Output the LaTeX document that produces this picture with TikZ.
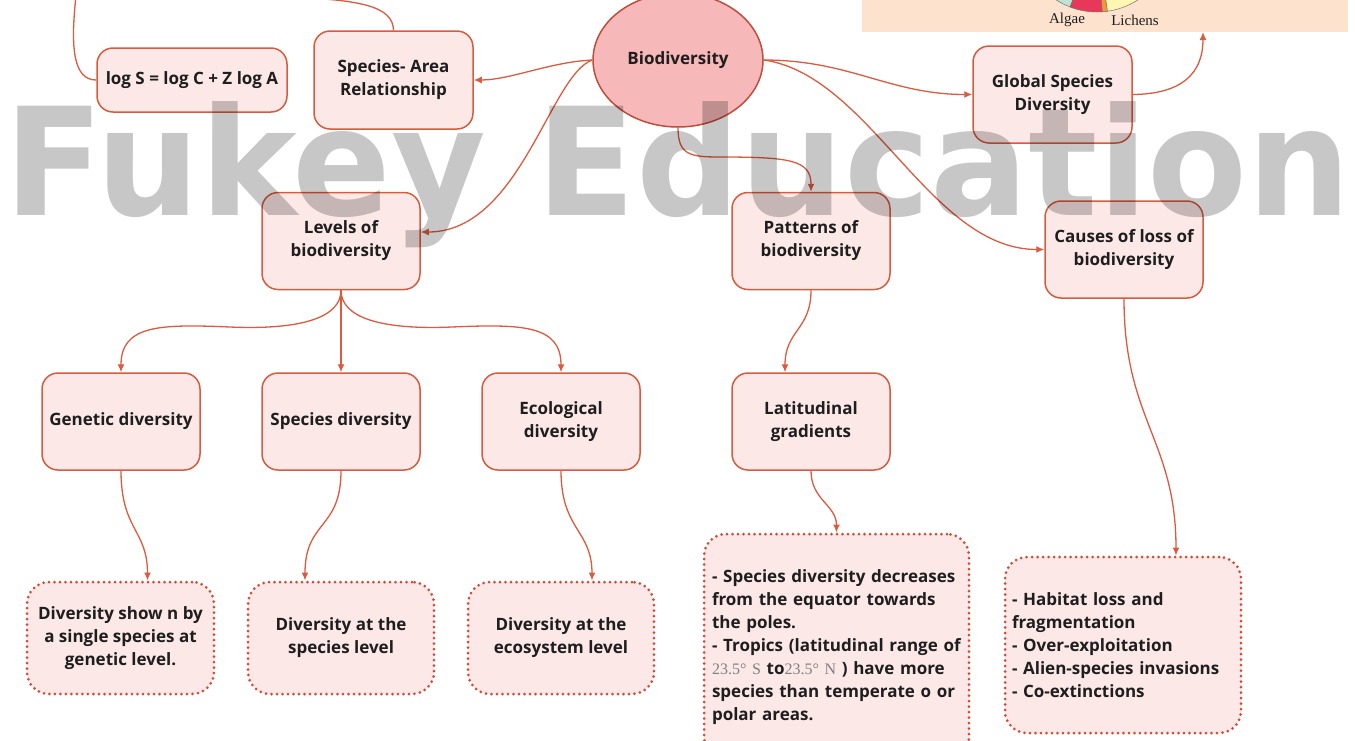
\documentclass[tikz,border=0pt]{standalone}
\usepackage{fontspec}
\setmainfont{Open Sans}
\newfontfamily\wmfont{DejaVu Sans}
\newfontfamily\picfont{Liberation Serif}
\usetikzlibrary{shapes.geometric,arrows.meta}
\definecolor{boxline}{RGB}{214,92,64}
\definecolor{boxfill}{RGB}{253,232,232}
\definecolor{dotline}{RGB}{214,72,52}
\definecolor{arrowc}{RGB}{220,90,62}
\definecolor{bioline}{RGB}{190,78,60}
\definecolor{biofill}{RGB}{246,184,184}
\definecolor{ink}{RGB}{30,30,30}
\definecolor{peach}{RGB}{253,226,206}
\definecolor{piecyan}{RGB}{190,226,214}
\definecolor{piered}{RGB}{232,56,90}
\definecolor{pieorange}{RGB}{245,150,60}
\definecolor{pieyellow}{RGB}{255,246,180}
\definecolor{pieline}{RGB}{120,110,100}
\newcommand\degpart[1]{{\picfont\mdseries\color{gray}\fontsize{16}{16}\selectfont #1}}
\begin{document}
\begin{tikzpicture}[x=1pt,y=1pt,
    box/.style={draw=boxline,fill=boxfill,line width=1.5pt,rounded corners=16pt,
      minimum width=158pt,minimum height=97pt,align=center,text=ink,
      font=\bfseries\fontsize{17}{23}\selectfont},
    descbox/.style={box,draw=dotline,line width=3pt,dash pattern=on 0pt off 5.5pt,
      line cap=round,rounded corners=22pt},
    conn/.style={draw=arrowc,line width=1.3pt,->,>={Latex[length=8pt,width=7pt]}},
    link/.style={draw=arrowc,line width=1.3pt},
    wm/.style={text=black,text opacity=.22,inner sep=0pt,
      font=\wmfont\bfseries\fontsize{150}{150}\selectfont}]
    \useasboundingbox (0,0) rectangle (1355,-740);
    % cut-off picture at the top right
    \begin{scope}
        \clip (862,0) rectangle (1348,-32);
        \fill[peach] (862,0) rectangle (1348,-32);
        \coordinate (piec) at (1097,63);
        \filldraw[fill=piecyan,draw=pieline,line width=.5pt] (piec) -- ++(180:75) arc (180:249:75) -- cycle;
        \filldraw[fill=piered,draw=pieline,line width=.5pt] (piec) -- ++(249:75) arc (249:274:75) -- cycle;
        \filldraw[fill=pieorange,draw=pieline,line width=.5pt] (piec) -- ++(274:75) arc (274:278:75) -- cycle;
        \filldraw[fill=pieyellow,draw=pieline,line width=.5pt] (piec) -- ++(278:75) arc (278:360:75) -- cycle;
    \end{scope}
    \node[font=\picfont\fontsize{15}{15}\selectfont,text=ink] (algae) at (1067,-20) {Algae};
    \node[font=\picfont\fontsize{15}{15}\selectfont,text=ink] (lichens) at (1135,-20) {Lichens};
    \coordinate (imgbot) at (1203,-32);
    \coordinate (sartop) at (280,3);
    \coordinate (lstop) at (76,4);

    \node[ellipse,draw=bioline,fill=biofill,line width=1.5pt,minimum width=170pt,minimum height=134pt,
        text=ink,font=\bfseries\fontsize{17}{23}\selectfont] (bio) at (678,-60) {Biodiversity};
    \node[box,minimum width=159pt,minimum height=98pt] (sar) at (393.5,-80) {Species- Area\\Relationship};
    \node[box,minimum width=190pt,minimum height=64pt] (logs) at (192,-80) {log S = log C + Z log A};
    \node[box,minimum width=159pt] (gsd) at (1052.5,-94.5) {Global Species\\Diversity};
    \node[box] (lev) at (341,-241) {Levels of\\biodiversity};
    \node[box] (pat) at (811,-241) {Patterns of\\biodiversity};
    \node[box] (cau) at (1124,-249.5) {Causes of loss of\\biodiversity};
    \node[box] (gen) at (121,-421.5) {Genetic diversity};
    \node[box] (spd) at (341,-421.5) {Species diversity};
    \node[box] (eco) at (561,-421.5) {Ecological\\diversity};
    \node[box] (lat) at (811,-421.5) {Latitudinal\\gradients};
    \node[descbox,minimum width=187pt,minimum height=112pt] (gdesc) at (120.5,-638) {Diversity show n by\\a single species at\\genetic level.};
    \node[descbox,minimum width=186pt,minimum height=112pt] (sdesc) at (341,-638) {Diversity at the\\species level};
    \node[descbox,minimum width=186pt,minimum height=112pt] (edesc) at (561,-638) {Diversity at the\\ecosystem level};
    \node[descbox,minimum width=265pt,minimum height=226pt,align=left,text width=249pt,inner xsep=8pt] (latdesc) at (836.5,-647)
        {- Species diversity decreases\\from the equator towards\\the poles.\\- Tropics (latitudinal range of\\\degpart{23.5° S} to\degpart{23.5° N} ) have more\\species than temperate o or\\polar areas.};
    \node[descbox,minimum width=236pt,minimum height=176pt,align=left,text width=222pt,inner xsep=7pt] (caudesc) at (1123,-645)
        {- Habitat loss and\\fragmentation\\- Over-exploitation\\- Alien-species invasions\\- Co-extinctions};

    \draw[conn] (bio.west) .. controls (550,-62) and (510,-80) .. (sar.east);
    \draw[conn] (bio.west) .. controls (550,-75) and (520,-232) .. ([yshift=9pt]lev.east);
    \draw[conn] (bio.south) .. controls (678,-155) and (690,-157) .. (720,-157) .. controls (790,-157) and (811,-160) .. (pat.north);
    \draw[conn] (bio.east) .. controls (850,-60) and (890,-94.5) .. (gsd.west);
    \draw[conn] (bio.east) .. controls (870,-75) and (930,-249.5) .. (cau.west);
    \draw[conn] (gsd.east) .. controls (1180,-94) and (1203,-75) .. (imgbot);
    \draw[link] (sar.north) .. controls (393,-6) and (360,1) .. (sartop);
    \draw[link] (logs.west) .. controls (74,-80) and (70,-50) .. (lstop);
    \draw[conn] (lev.south) .. controls (341,-318) and (300,-330) .. (230,-327) .. controls (160,-324) and (121,-325) .. (gen.north);
    \draw[conn] (lev.south) -- (spd.north);
    \draw[conn] (lev.south) .. controls (341,-318) and (382,-330) .. (452,-327) .. controls (522,-324) and (561,-325) .. (eco.north);
    \draw[conn] (gen.south) .. controls (121,-530) and (147.5,-530) .. ([xshift=27pt]gdesc.north);
    \draw[conn] (spd.south) .. controls (341,-530) and (305,-520) .. ([xshift=-36pt]sdesc.north);
    \draw[conn] (eco.south) .. controls (561,-530) and (592,-530) .. ([xshift=31pt]edesc.north);
    \draw[conn] (pat.south) .. controls (811,-330) and (785,-330) .. ([xshift=-26pt]lat.north);
    \draw[conn] (lat.south) .. controls (811,-500) and (836.5,-505) .. (latdesc.north);
    \draw[conn] (cau.south) .. controls (1124,-420) and (1176,-440) .. ([xshift=53pt]caudesc.north);

    \node[wm,anchor=base west] (wmark) at (4,-215) {\scalebox{0.97}[1]{Fukey Education}};
\end{tikzpicture}
\end{document}
